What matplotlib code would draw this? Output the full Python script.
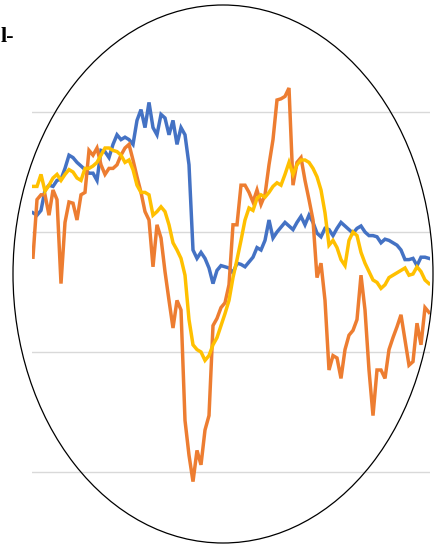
import matplotlib
matplotlib.use("Agg")
import matplotlib.pyplot as plt
from matplotlib.patches import Ellipse

blue = [1.6,1.4,1.8,3.5,3.9,3.8,4.3,4.4,5.3,6.4,
        6.2,5.8,5.5,5.2,4.9,4.9,4.3,6.8,6.7,6.2,
        7.3,8.1,7.7,7.9,7.7,7.3,9.3,10.2,8.7,10.8,
        8.7,8.1,9.8,9.5,8.1,9.3,7.3,8.7,8.1,5.6,
        -1.5,-2.2,-1.7,-2.2,-3.0,-4.3,-3.2,-2.8,-2.9,-3.0,
        -3.4,-2.6,-2.7,-2.9,-2.5,-2.1,-1.3,-1.5,-0.7,1.0,
        -0.5,0.0,0.4,0.8,0.5,0.2,0.8,1.3,0.6,1.4,
        0.8,-0.1,-0.4,0.3,0.2,-0.3,0.3,0.8,0.5,0.2,
        -0.1,0.3,0.5,0.0,-0.3,-0.3,-0.4,-0.9,-0.6,-0.7,
        -0.9,-1.1,-1.5,-2.3,-2.3,-2.2,-2.8,-2.1,-2.1,-2.2]

orange = [-2.1,2.7,3.1,3.1,1.4,3.5,2.7,-4.3,0.8,2.5,
          2.4,1.0,3.1,3.3,6.8,6.4,7.0,5.6,4.8,5.3,
          5.3,5.6,6.4,7.0,7.3,6.0,4.6,3.3,1.7,1.0,
          -2.9,0.6,-0.5,-3.3,-5.7,-8.0,-5.7,-6.5,-15.7,-18.6,
          -20.8,-18.2,-19.4,-16.5,-15.3,-7.8,-7.2,-6.3,-5.9,-4.4,
          0.6,0.6,3.9,3.9,3.3,2.5,3.5,2.3,3.1,5.6,
          7.7,11.0,11.1,11.3,12.0,3.9,5.8,6.2,4.3,2.7,
          1.0,-3.8,-2.6,-5.7,-11.5,-10.3,-10.5,-12.2,-9.8,-8.6,
          -8.2,-7.3,-3.6,-6.5,-11.5,-15.3,-11.5,-11.5,-12.2,-9.8,
          -8.8,-7.9,-6.9,-9.0,-11.1,-10.8,-7.6,-9.4,-6.3,-6.7]

yellow = [3.8,3.8,4.8,3.4,3.9,4.5,4.8,4.3,4.8,5.2,
          5.0,4.5,4.3,5.3,5.3,5.5,5.8,6.4,7.0,7.0,
          6.8,6.7,6.4,5.8,6.0,5.2,3.9,3.3,3.3,3.1,
          1.4,1.7,2.1,1.7,0.6,-0.9,-1.5,-2.2,-3.6,-7.3,
          -9.4,-9.8,-10.0,-10.7,-10.3,-9.4,-8.8,-7.8,-6.8,-5.7,
          -3.8,-2.3,-0.7,1.0,2.0,1.8,2.8,3.1,2.9,3.3,
          3.8,4.1,3.9,4.8,5.8,4.8,5.6,6.0,6.0,5.8,
          5.3,4.6,3.5,1.6,-1.1,-0.7,-1.3,-2.3,-2.8,-0.7,
          0.0,-0.3,-1.7,-2.6,-3.3,-4.0,-4.2,-4.7,-4.4,-3.8,
          -3.6,-3.4,-3.2,-3.0,-3.6,-3.5,-2.9,-3.3,-4.0,-4.3]

gridvals = [-20, -10, 0, 10]

W, H = 437, 544
fig = plt.figure(figsize=(W/100, H/100), dpi=100)
fig.patch.set_facecolor("white")

ax = fig.add_axes([32/W, (H-490)/H, 398/W, 410/H])
x = list(range(len(blue)))
lw = 2.5
ax.plot(x, blue, color="#4472C4", lw=lw, solid_joinstyle="miter", zorder=3)
ax.plot(x, orange, color="#ED7D31", lw=lw, solid_joinstyle="miter", zorder=4)
ax.plot(x, yellow, color="#FFC000", lw=lw, solid_joinstyle="miter", zorder=5)

ax.set_xlim(-0.25, 99.25)
ax.set_ylim((232-490)/12, (232-80)/12)
ax.set_yticks(gridvals)
ax.set_xticks([])
ax.yaxis.grid(True, color="#d9d9d9", lw=1.0)
ax.set_axisbelow(True)
ax.tick_params(left=False, labelleft=False)
for s in ax.spines.values():
    s.set_visible(False)
ax.patch.set_alpha(0)

ell = Ellipse((223/W, 1-274/H), 420/W, 538/H, transform=fig.transFigure,
              fill=False, edgecolor="black", lw=0.9, zorder=10)
fig.patches.append(ell)

fig.text(1/W, 1-37/H, "l-", fontsize=16, fontweight="bold",
         family=["Liberation Serif", "DejaVu Serif"], ha="left", va="center")

fig.savefig("out.png", dpi=100)
